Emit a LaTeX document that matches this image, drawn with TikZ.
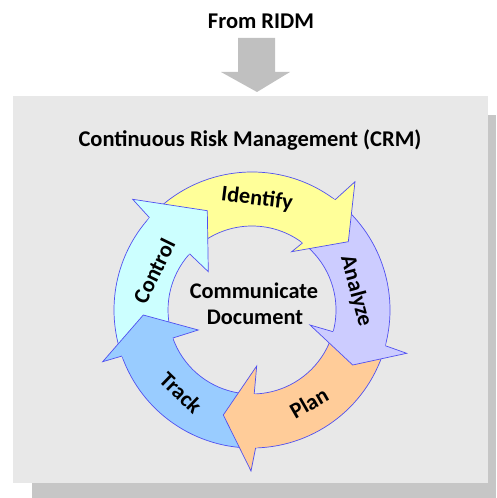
\documentclass[tikz,border=0pt]{standalone}
\usepackage{fontspec}
\setmainfont{Carlito}
\usetikzlibrary{calc}
\definecolor{boxgray}{RGB}{232,232,232}
\definecolor{shadowgray}{RGB}{198,198,198}
\definecolor{arrowgray}{RGB}{192,192,192}
\definecolor{cIdentify}{RGB}{255,255,153}
\definecolor{cAnalyze}{RGB}{204,204,255}
\definecolor{cPlan}{RGB}{255,204,153}
\definecolor{cTrack}{RGB}{153,204,255}
\definecolor{cControl}{RGB}{204,255,255}
\definecolor{edgeblue}{RGB}{80,80,240}
\newcommand\Rout{138}
\newcommand\Rin{84}
\newcommand\ringbody[3]{%
  \fill[#1] ($(C)+(#2:\Rout)$) arc[start angle=#2, end angle=#3, radius=\Rout pt]
     -- ($(C)+(#3:\Rin)$) arc[start angle=#3, end angle=#2, radius=\Rin pt] -- cycle;
  \draw[edgeline] ($(C)+(#2:\Rout)$) arc[start angle=#2, end angle=#3, radius=\Rout pt];
  \draw[edgeline] ($(C)+(#2:\Rin)$) arc[start angle=#2, end angle=#3, radius=\Rin pt];}
% head: colour, base angle, outer barb, tip, inner barb; the fill reaches 2 degrees back into its own body
\newcommand\ringhead[5]{%
  \fill[#1] ($(C)+(#2+2:\Rout-1)$) -- ($(C)+(#2:\Rout)$) -- #3 -- #4 -- #5
     -- ($(C)+(#2:\Rin)$) -- ($(C)+(#2+2:\Rin+1)$) -- cycle;
  \draw[edgeline] ($(C)+(#2:\Rout)$) -- #3 -- #4 -- #5 -- ($(C)+(#2:\Rin)$);}
\begin{document}
\begin{tikzpicture}[x=1pt,y=1pt,
  edgeline/.style={draw=edgeblue, line width=0.7pt, line join=miter},
  lbl/.style={font=\fontsize{22.3}{26}\selectfont\bfseries, inner sep=0pt},
  ttl/.style={font=\fontsize{22.5}{26}\selectfont\bfseries, inner sep=0pt, anchor=base}]
\useasboundingbox (0,0) rectangle (496,498);
% box and shadow
\fill[shadowgray] (32,0) rectangle (496,383);
\fill[boxgray] (13,15) rectangle (488,402);
% input arrow
\fill[arrowgray] (238,460) -- (275,460) -- (275,426) -- (290,426) -- (257,406)
  -- (221,426) -- (238,426) -- cycle;
\node[ttl] (from) at (261,469) {From RIDM};
\node[ttl] (title) at (250,351.3) {Continuous Risk Management (CRM)};
% cycle
\coordinate (C) at (252,188);
\ringbody{cIdentify}{138}{53}
\ringbody{cAnalyze}{53}{-15}
\ringbody{cPlan}{-15}{-88.5}
\ringbody{cTrack}{271.5}{199.5}
\ringbody{cControl}{199.5}{138}
\ringhead{cControl}{138}{(132.7,298.7)}{(207.3,287.3)}{(208.3,226.3)}
\ringhead{cIdentify}{53}{(355,316.3)}{(348.3,256.3)}{(291.7,246.3)}
\ringhead{cAnalyze}{-15}{(406.7,144.7)}{(352.7,133)}{(310,173)}
\ringhead{cPlan}{-88.5}{(251,27)}{(223.3,83)}{(256.7,132)}
\ringhead{cTrack}{199.5}{(102.7,136.3)}{(143.3,183)}{(198.3,168)}
% labels
\node[lbl, rotate=-7] (identify) at (257,299) {Identify};
\node[lbl, rotate=-75] (analyze) at (356,207) {Analyze};
\node[lbl, rotate=30] (plan) at (309,95) {Plan};
\node[lbl, rotate=-44] (track) at (181,105) {Track};
\node[lbl, rotate=64] (control) at (154,227) {Control};
\node[lbl, anchor=base] (communicate) at (254,199.7) {Communicate};
\node[lbl, anchor=base] (document) at (255,173) {Document};
\end{tikzpicture}
\end{document}
